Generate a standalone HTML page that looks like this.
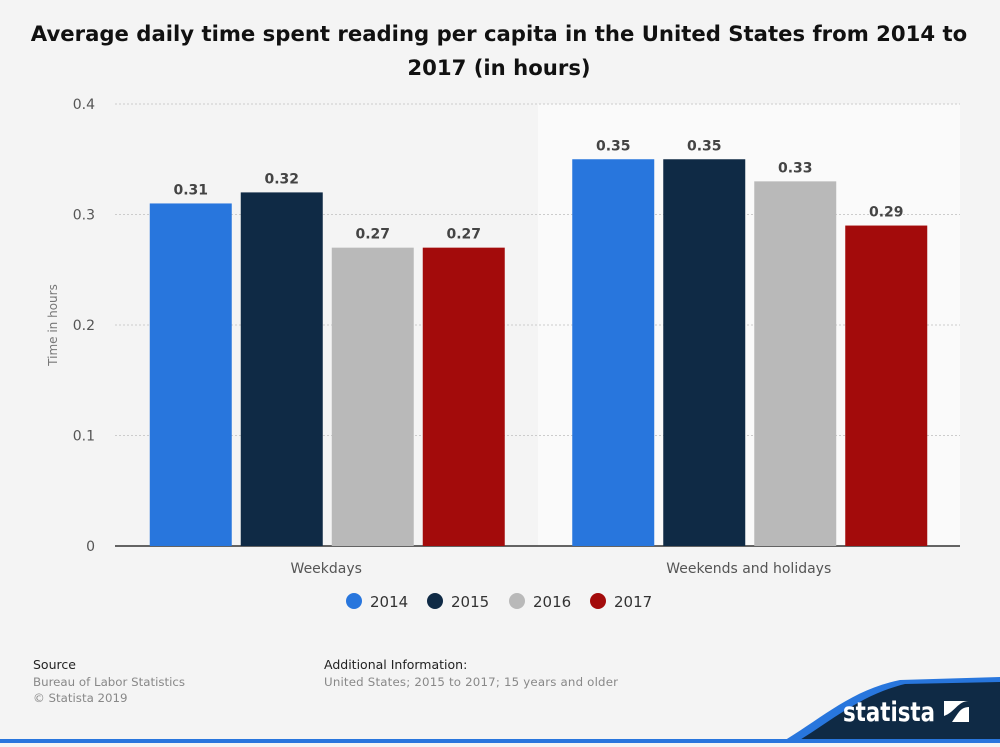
<!DOCTYPE html>
<html><head><meta charset="utf-8"><style>
body{margin:0;background:#f4f4f4;font-family:"DejaVu Sans","Liberation Sans",sans-serif;}
svg text{font-family:"DejaVu Sans","Liberation Sans",sans-serif;}
</style></head><body>
<svg id="c" width="1000" height="743" viewBox="0 0 1000 743" xmlns="http://www.w3.org/2000/svg">
<rect width="1000" height="743" fill="#f4f4f4"/>
<text x="499" y="41" text-anchor="middle" font-size="21.2" font-weight="bold" fill="#111">Average daily time spent reading per capita in the United States from 2014 to</text>
<text x="499" y="75" text-anchor="middle" font-size="21.2" font-weight="bold" fill="#111">2017 (in hours)</text>
<rect x="538" y="104" width="422" height="442" fill="#fafafa"/>
<g id="grid"></g>
<g id="bars"></g>
<text transform="translate(57,325) rotate(-90)" text-anchor="middle" font-size="12" fill="#777">Time in hours</text>
<g id="legend"></g>
<text x="33" y="669" font-size="12.5" fill="#222">Source</text>
<text x="33" y="686" font-size="11.8" fill="#888">Bureau of Labor Statistics</text>
<text x="33" y="702" font-size="11.8" fill="#888">© Statista 2019</text>
<text x="324" y="669" font-size="12.5" fill="#222">Additional Information:</text>
<text x="324" y="686" font-size="11.8" fill="#888" textLength="294">United States; 2015 to 2017; 15 years and older</text>
<path d="M780,743 C820,720 850,690 900,680 L1000,677 L1000,743 Z" fill="#2876dd"/>
<path d="M795,743 C830,722 860,695 905,684 L1000,682 L1000,743 Z" fill="#0f2a45"/>
<rect x="0" y="739" width="1000" height="4" fill="#2876dd"/>
<text x="843" y="721" font-size="27" font-weight="bold" fill="#fff" textLength="92" lengthAdjust="spacingAndGlyphs" font-family="Liberation Sans">statista</text>
<g><rect x="944" y="701" width="25" height="21" fill="#fff"/><path d="M944,722 L952,722 C958,714 960,707 969,707 L969,701 C958,701 955,712 944,716 Z" fill="#0f2a45"/></g>
</svg>
<script>
const categories=["Weekdays","Weekends and holidays"];
const seriesNames=["2014","2015","2016","2017"];
const colors=["#2876dd","#0f2a45","#b9b9b9","#a30b0b"];
const v2014=[0.31,0.35];
const v2015=[0.32,0.35];
const v2016=[0.27,0.33];
const v2017=[0.27,0.29];
const yTicks=[0,0.1,0.2,0.3,0.4];
const yTickLabels=["0","0.1","0.2","0.3","0.4"];
const NS="http://www.w3.org/2000/svg";
const x0=115,x1=960,yTop=104,yBot=546,yMax=0.4;
const y=v=>yBot-(v/yMax)*(yBot-yTop);
const gw=(x1-x0)/categories.length;
const gx=i=>x0+gw*i+gw/2;
function mk(t,a,p){const e=document.createElementNS(NS,t);for(const k in a)e.setAttribute(k,a[k]);p.appendChild(e);return e;}
const grid=document.getElementById('grid');
yTicks.forEach((t,i)=>{
 if(t>0){const l=mk('line',{x1:x0,x2:x1,y1:y(t),y2:y(t),stroke:'#ccc','stroke-dasharray':'2,2'},grid);
 
 }
 const tx=mk('text',{x:95,y:y(t)+5,'text-anchor':'end','font-size':14,fill:'#555'},grid);tx.textContent=yTickLabels[i];
 
 
});
const ax=mk('line',{x1:x0,x2:x1,y1:yBot,y2:yBot,stroke:'#333','stroke-width':1.5},grid);


const bars=document.getElementById('bars');
const series=[v2014,v2015,v2016,v2017];
const bw=82,step=91;
categories.forEach((c,ci)=>{
 series.forEach((s,si)=>{
  const bx=gx(ci)-2*step+si*step+5.5;
  const r=mk('rect',{x:bx,y:y(s[ci]),width:bw,height:yBot-y(s[ci]),fill:colors[si]},bars);
  
  
  const t=mk('text',{x:bx+bw/2,y:y(s[ci])-9,'text-anchor':'middle','font-size':14,'font-weight':'bold',fill:'#444'},bars);t.textContent=s[ci].toFixed(2);
  
  
 });
 const t=mk('text',{x:gx(ci),y:573,'text-anchor':'middle','font-size':14,fill:'#555'},bars);t.textContent=c;
 
 
});
const lg=document.getElementById('legend');
const lx=[354,435,517,598];
seriesNames.forEach((n,i)=>{
 const g=mk('g',{},lg);
 
 
 mk('circle',{cx:lx[i],cy:601,r:8,fill:colors[i]},g);
 const t=mk('text',{x:lx[i]+16,y:607,'font-size':15,fill:'#333'},g);t.textContent=n;
});
</script>
</body></html>
